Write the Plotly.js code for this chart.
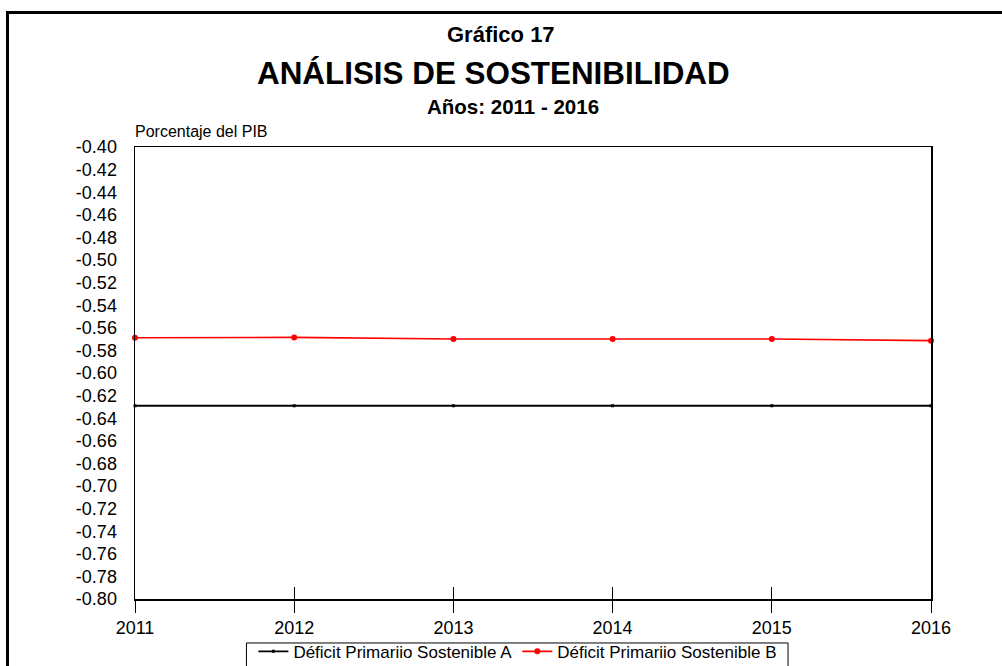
<!DOCTYPE html>
<html>
<head>
<meta charset="utf-8">
<script src="https://cdn.plot.ly/plotly-3.0.1.min.js"></script>
<style>
  html, body { margin: 0; padding: 0; background: #fff; overflow: hidden; }
  #chart { position: absolute; left: 0; top: 0; width: 1002px; height: 666px; }
  #frame { position: absolute; left: 6px; top: 11px; width: 1100px; height: 800px;
           border: 3px solid #000; pointer-events: none; z-index: 10; }
</style>
</head>
<body>
<div id="chart"></div>
<div id="frame"></div>
<script>
const years = [2011, 2012, 2013, 2014, 2015, 2016];
const seriesA = [-0.629, -0.629, -0.629, -0.629, -0.629, -0.629];
const seriesB = [-0.5688, -0.5685, -0.5699, -0.5699, -0.5699, -0.5714];
const nameA = 'Déficit Primariio Sostenible A';
const nameB = 'Déficit Primariio Sostenible B';
const yTickVals = [-0.80,-0.78,-0.76,-0.74,-0.72,-0.70,-0.68,-0.66,-0.64,-0.62,-0.60,-0.58,-0.56,-0.54,-0.52,-0.50,-0.48,-0.46,-0.44,-0.42,-0.40];
const yTickText = ['-0.80','-0.78','-0.76','-0.74','-0.72','-0.70','-0.68','-0.66','-0.64','-0.62','-0.60','-0.58','-0.56','-0.54','-0.52','-0.50','-0.48','-0.46','-0.44','-0.42','-0.40'];
const xTickText = ['2011','2012','2013','2014','2015','2016'];

const FONT = 'Liberation Sans, Arial, Helvetica, sans-serif';

const traces = [
  {
    x: years, y: seriesA, name: nameA, type: 'scatter', mode: 'lines+markers',
    line: {color: '#000000', width: 1.8},
    marker: {color: '#000000', size: 3, symbol: 'square'},
    cliponaxis: false
  },
  {
    x: years, y: seriesB, name: nameB, type: 'scatter', mode: 'lines+markers',
    line: {color: '#ff0000', width: 1.7},
    marker: {color: '#ff0000', size: 6, symbol: 'circle'},
    cliponaxis: false
  },
  {
    x: years, y: seriesB, xaxis: 'x2', type: 'scatter', mode: 'none',
    showlegend: false, hoverinfo: 'skip'
  }
];

const layout = {
  width: 1002, height: 666,
  margin: {l: 135, r: 71, t: 147, b: 67, autoexpand: false},
  paper_bgcolor: '#ffffff', plot_bgcolor: '#ffffff',
  font: {family: FONT, color: '#000000', size: 18},
  showlegend: true,
  legend: {
    orientation: 'h', x: 0.481, xanchor: 'center', y: -0.077, yanchor: 'top',
    borderwidth: 0, bgcolor: 'rgba(0,0,0,0)',
    font: {family: FONT, size: 17, color: '#000000'},
    itemwidth: 30, tracegroupgap: 0
  },
  shapes: [
    {type: 'rect', xref: 'paper', yref: 'paper', x0: 0.14, x1: 0.8204, y0: -0.0973, y1: -0.25,
     line: {color: '#000000', width: 1}, fillcolor: 'rgba(0,0,0,0)', layer: 'above'}
  ],
  xaxis: {
    range: [2011, 2016], tickvals: years, ticktext: xTickText,
    ticks: 'outside', ticklen: 12, tickwidth: 1, tickcolor: '#000000',
    showline: true, linecolor: '#000000', linewidth: 1.5, mirror: true,
    showgrid: false, zeroline: false, fixedrange: true,
    tickfont: {family: FONT, size: 18, color: '#000000'}
  },
  xaxis2: {
    range: [2011, 2016], tickvals: years, overlaying: 'x', anchor: 'y', side: 'bottom',
    ticks: 'inside', ticklen: 12, tickwidth: 1, tickcolor: '#000000',
    showticklabels: false, showline: false, showgrid: false, zeroline: false
  },
  yaxis: {
    range: [-0.80, -0.40], tickvals: yTickVals, ticktext: yTickText,
    ticks: '', ticklabelstandoff: 13,
    showline: true, linecolor: '#000000', linewidth: 1.5, mirror: true,
    showgrid: false, zeroline: false, fixedrange: true,
    tickfont: {family: FONT, size: 18, color: '#000000'}
  },
  annotations: [
    {text: '<b>Gráfico 17</b>', xref: 'paper', yref: 'paper', x: 0.46, y: 1.25,
     xanchor: 'center', yanchor: 'middle', showarrow: false,
     font: {family: FONT, size: 22, color: '#000000'}},
    {text: '<b>ANÁLISIS DE SOSTENIBILIDAD</b>', xref: 'paper', yref: 'paper', x: 0.451, y: 1.1637,
     xanchor: 'center', yanchor: 'middle', showarrow: false,
     font: {family: FONT, size: 31.4, color: '#000000'}},
    {text: '<b>Años: 2011 - 2016</b>', xref: 'paper', yref: 'paper', x: 0.475, y: 1.0885,
     xanchor: 'center', yanchor: 'middle', showarrow: false,
     font: {family: FONT, size: 20.5, color: '#000000'}},
    {text: 'Porcentaje del PIB', xref: 'paper', yref: 'paper', x: 0, y: 1.035,
     xanchor: 'left', yanchor: 'middle', showarrow: false, xshift: -2,
     font: {family: FONT, size: 16, color: '#000000'}}
  ]
};

Plotly.newPlot('chart', traces, layout, {displayModeBar: false, staticPlot: true});
</script>
</body>
</html>
